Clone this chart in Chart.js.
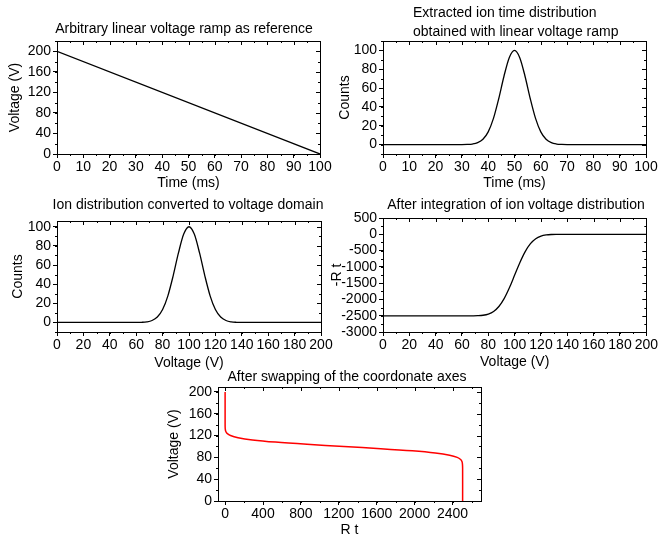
<!DOCTYPE html>
<html>
<head>
<meta charset="utf-8">
<script src="https://cdn.jsdelivr.net/npm/chart.js@4.4.1/dist/chart.umd.min.js"></script>
<style>
  html, body { margin: 0; padding: 0; background: #fff; }
  #page { position: relative; width: 659px; height: 540px; overflow: hidden; }
  #page canvas { position: absolute; }
</style>
</head>
<body>
<div id="page">
  <canvas id="c1" width="345" height="190" style="left:0;top:0"></canvas>
  <canvas id="c2" width="329" height="190" style="left:330px;top:0"></canvas>
  <canvas id="c3" width="345" height="180" style="left:0;top:190px"></canvas>
  <canvas id="c4" width="329" height="180" style="left:330px;top:190px"></canvas>
  <canvas id="c5" width="340" height="180" style="left:150px;top:360px"></canvas>
</div>
<script>
// panel 1: linear ramp
var rampTime = [0, 100];
var rampVolt = [200, 0];

// panel 2: ion time distribution
var distTime = [0, 10, 20, 30, 32, 34, 36, 38, 40, 42, 44, 46, 48, 50, 52, 54, 56, 58, 60, 62, 64, 66, 68, 70, 80, 90, 100];
var distCounts = [0, 0, 0, 0.03, 0.15, 0.6, 2.0, 5.6, 13.5, 27.8, 48.7, 72.6, 92.3, 100, 92.3, 72.6, 48.7, 27.8, 13.5, 5.6, 2.0, 0.6, 0.15, 0.03, 0, 0, 0];

// panel 3: distribution in voltage domain
var distVolt = [0, 20, 40, 60, 64, 68, 72, 76, 80, 84, 88, 92, 96, 100, 104, 108, 112, 116, 120, 124, 128, 132, 136, 140, 160, 180, 200];
var distVoltCounts = [0, 0, 0, 0.03, 0.15, 0.6, 2.0, 5.6, 13.5, 27.8, 48.7, 72.6, 92.3, 100, 92.3, 72.6, 48.7, 27.8, 13.5, 5.6, 2.0, 0.6, 0.15, 0.03, 0, 0, 0];

// panel 4: integral (-R t)
var intVolt = [0, 40, 60, 64, 68, 72, 76, 80, 84, 88, 92, 96, 100, 104, 108, 112, 116, 120, 124, 128, 132, 136, 140, 160, 200];
var intNegRt = [-2506, -2506, -2506, -2505.6, -2504, -2499.5, -2485.5, -2449, -2369, -2218, -1975, -1642, -1253, -864, -531, -288, -137, -57, -21, -6.5, -1.7, -0.4, -0.1, 0, 0];

// panel 5: swapped axes
var swapRt = [0, 0, 0.1, 0.4, 1.7, 6.5, 21, 57, 137, 288, 531, 864, 1253, 1642, 1975, 2218, 2369, 2449, 2485, 2500, 2504, 2506, 2506];
var swapVolt = [200, 160, 140, 136, 132, 128, 124, 120, 116, 112, 108, 104, 100, 96, 92, 88, 84, 80, 76, 72, 68, 60, 0];

// tick labels
var ticksTime = [0, 10, 20, 30, 40, 50, 60, 70, 80, 90, 100];
var ticksRamp = [0, 40, 80, 120, 160, 200];
var ticksCounts = [0, 20, 40, 60, 80, 100];
var ticksVolt = [0, 20, 40, 60, 80, 100, 120, 140, 160, 180, 200];
var ticksRt = [-3000, -2500, -2000, -1500, -1000, -500, 0, 500];
var ticksSwapX = [0, 400, 800, 1200, 1600, 2000, 2400];
var ticksSwapY = [0, 40, 80, 120, 160, 200];

Chart.defaults.font.family = '"Liberation Sans", Arial, sans-serif';
Chart.defaults.font.size = 14;
Chart.defaults.color = '#000';

// title text drawn at a fixed spot in the canvas
var panelTitle = {
    id: 'panelTitle',
    afterDraw: function(chart, args, o) {
        var ctx = chart.ctx;
        ctx.save();
        ctx.font = '14px "Liberation Sans", Arial, sans-serif';
        ctx.fillStyle = '#000';
        ctx.textAlign = o.align || 'center';
        ctx.textBaseline = 'middle';
        [].concat(o.text).forEach(function(t, i) {
            ctx.fillText(t, o.x, o.y + i * 19);
        });
        ctx.restore();
    }
};

// closed frame, inward ticks on top/right, minor ticks everywhere
var frame = {
    id: 'frame',
    afterDraw: function(chart, args, o) {
        var ctx = chart.ctx, a = chart.chartArea;
        var xs = chart.scales.x, ys = chart.scales.y;
        ctx.save();
        ctx.strokeStyle = '#000';
        ctx.lineWidth = 1;
        ctx.strokeRect(Math.round(a.left) + 0.5, Math.round(a.top) + 0.5,
                       Math.round(a.right - a.left), Math.round(a.bottom - a.top));
        ctx.beginPath();
        xs.ticks.forEach(function(t) {
            var p = Math.round(xs.getPixelForValue(t.value)) + 0.5;
            ctx.moveTo(p, a.top); ctx.lineTo(p, a.top + 4);
        });
        ys.ticks.forEach(function(t) {
            var p = Math.round(ys.getPixelForValue(t.value)) + 0.5;
            ctx.moveTo(a.right, p); ctx.lineTo(a.right - 4, p);
        });
        var v, p;
        for (v = Math.ceil(xs.min / o.xMinor) * o.xMinor; v <= xs.max; v += o.xMinor) {
            p = Math.round(xs.getPixelForValue(v)) + 0.5;
            ctx.moveTo(p, a.bottom); ctx.lineTo(p, a.bottom + 2);
            ctx.moveTo(p, a.top); ctx.lineTo(p, a.top + 2);
        }
        for (v = Math.ceil(ys.min / o.yMinor) * o.yMinor; v <= ys.max; v += o.yMinor) {
            p = Math.round(ys.getPixelForValue(v)) + 0.5;
            ctx.moveTo(a.left, p); ctx.lineTo(a.left - 2, p);
            ctx.moveTo(a.right, p); ctx.lineTo(a.right - 2, p);
        }
        ctx.stroke();
        ctx.restore();
    }
};

function pts(xs, ys) {
    return xs.map(function(x, i) { return {x: x, y: ys[i]}; });
}

function axis(opt) {
    var horiz = opt.pos === 'bottom';
    return {
        type: 'linear',
        position: opt.pos,
        min: opt.min,
        max: opt.max,
        afterBuildTicks: function(s) {
            s.ticks = opt.ticks.map(function(v) { return {value: v}; });
        },
        afterFit: function(s) {
            if (horiz) s.height = opt.size; else s.width = opt.size;
        },
        grid: {
            drawOnChartArea: false,
            drawTicks: true,
            tickLength: 4,
            color: '#000'
        },
        border: { display: true, color: '#000' },
        ticks: {
            padding: horiz ? 1 : 2,
            maxRotation: 0,
            autoSkip: false,
            font: { size: 14 },
            callback: function(v) { return String(v); }
        },
        title: {
            display: true,
            text: opt.title,
            font: { size: 14, lineHeight: 1 },
            padding: { top: opt.tpad, bottom: opt.tpad }
        }
    };
}

function makeChart(id, cfg) {
    return new Chart(document.getElementById(id), {
        type: 'line',
        data: {
            datasets: [{
                data: pts(cfg.x, cfg.y),
                borderColor: cfg.color || '#000',
                borderWidth: cfg.lw || 1.3,
                pointRadius: 0,
                fill: false,
                tension: cfg.tension || 0,
                cubicInterpolationMode: cfg.mono ? 'monotone' : 'default'
            }]
        },
        options: {
            responsive: false,
            animation: false,
            layout: { padding: cfg.pad },
            plugins: {
                legend: { display: false },
                tooltip: { enabled: false },
                panelTitle: cfg.title,
                frame: { xMinor: cfg.xMinor, yMinor: cfg.yMinor }
            },
            scales: { x: cfg.xAxis, y: cfg.yAxis }
        },
        plugins: [panelTitle, frame]
    });
}

makeChart('c1', {
    x: rampTime, y: rampVolt,
    pad: { left: 0, top: 41, right: 25, bottom: 0 },
    title: { text: 'Arbitrary linear voltage ramp as reference', x: 184, y: 29 },
    xMinor: 5, yMinor: 20,
    xAxis: axis({ pos: 'bottom', min: 0, max: 100, ticks: ticksTime, size: 36, title: 'Time (ms)', tpad: 0 }),
    yAxis: axis({ pos: 'left', min: 0, max: 220, ticks: ticksRamp, size: 57, title: 'Voltage (V)', tpad: 8 })
});

makeChart('c2', {
    x: distTime, y: distCounts, mono: true,
    pad: { left: 0, top: 41, right: 13, bottom: 0 },
    title: { text: ['Extracted ion time distribution', 'obtained with linear voltage ramp'], x: 83, y: 13, align: 'left' },
    xMinor: 5, yMinor: 10,
    xAxis: axis({ pos: 'bottom', min: 0, max: 100, ticks: ticksTime, size: 36, title: 'Time (ms)', tpad: 0 }),
    yAxis: axis({ pos: 'left', min: -10, max: 110, ticks: ticksCounts, size: 53, title: 'Counts', tpad: 8 })
});

makeChart('c3', {
    x: distVolt, y: distVoltCounts, mono: true,
    pad: { left: 0, top: 31, right: 24, bottom: 0 },
    title: { text: 'Ion distribution converted to voltage domain', x: 188, y: 15 },
    xMinor: 10, yMinor: 10,
    xAxis: axis({ pos: 'bottom', min: 0, max: 200, ticks: ticksVolt, size: 38, title: 'Voltage (V)', tpad: 0 }),
    yAxis: axis({ pos: 'left', min: -10, max: 106, ticks: ticksCounts, size: 57, title: 'Counts', tpad: 11 })
});

makeChart('c4', {
    x: intVolt, y: intNegRt, mono: true,
    pad: { left: 0, top: 28, right: 12, bottom: 0 },
    title: { text: 'After integration of ion voltage distribution', x: 186, y: 15 },
    xMinor: 10, yMinor: 250,
    xAxis: axis({ pos: 'bottom', min: 0, max: 200, ticks: ticksVolt, size: 38, title: 'Voltage (V)', tpad: 1 }),
    yAxis: axis({ pos: 'left', min: -3000, max: 500, ticks: ticksRt, size: 53, title: '-R t', tpad: 0 })
});

makeChart('c5', {
    x: swapRt, y: swapVolt, tension: 0.3, color: '#ff0000', lw: 1.5,
    pad: { left: 0, top: 27, right: 9, bottom: 0 },
    title: { text: 'After swapping of the coordonate axes', x: 197, y: 17 },
    xMinor: 200, yMinor: 20,
    xAxis: axis({ pos: 'bottom', min: -75, max: 2700, ticks: ticksSwapX, size: 39, title: 'R t', tpad: 3 }),
    yAxis: axis({ pos: 'left', min: 0, max: 209, ticks: ticksSwapY, size: 68, title: 'Voltage (V)', tpad: 17 })
});
</script>
</body>
</html>
